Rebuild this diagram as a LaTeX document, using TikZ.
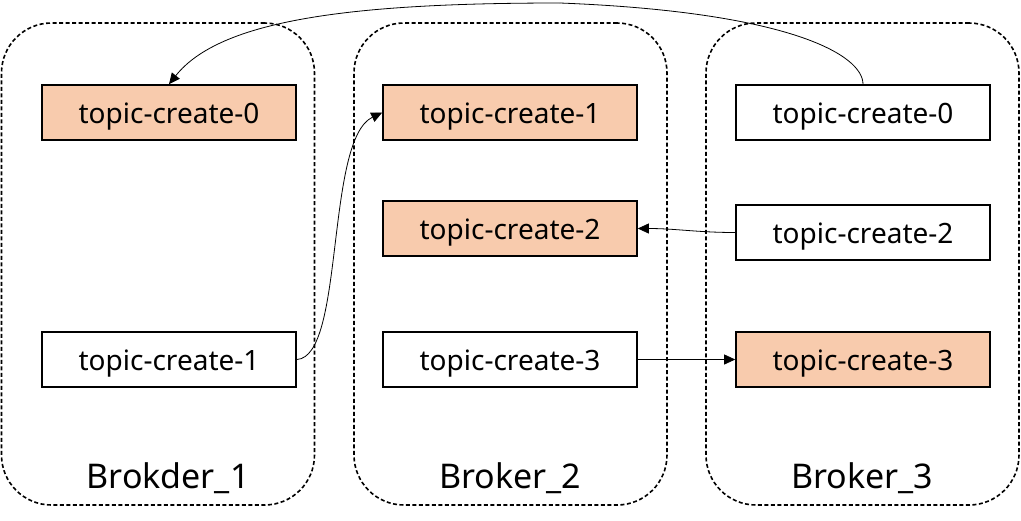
\documentclass[tikz,border=0pt]{standalone}
\usepackage{fontspec}
\setmainfont{Noto Sans}
\usetikzlibrary{arrows.meta}
\definecolor{peach}{HTML}{F8CBAD}
\begin{document}
\begin{tikzpicture}[x=1pt,y=-1pt,
  container/.style={draw=black,line width=1.6pt,dash pattern=on 4pt off 2.5pt,rounded corners=50pt,minimum width=313pt,minimum height=482pt,inner sep=0pt},
  part/.style={draw=black,line width=1.6pt,minimum width=254pt,minimum height=55pt,inner sep=0pt,text height=24pt,text depth=3pt,font=\fontsize{28}{32}\selectfont},
  hot/.style={part,fill=peach},
  cold/.style={part,fill=white},
  blabel/.style={font=\fontsize{34}{40}\selectfont,anchor=base},
  conn/.style={line width=0.8pt,-{Triangle[length=11pt,width=10pt]}}]
\useasboundingbox (0,0) rectangle (1021,520);
\node[container] (c1) at (158,264) {};
\node[container] (c2) at (510.5,264) {};
\node[container] (c3) at (862.5,264) {};
\node[blabel] (l1) at (168,488) {Brokder\_1};
\node[blabel] (l2) at (510,488) {Broker\_2};
\node[blabel] (l3) at (862,488) {Broker\_3};
\node[hot] (b10) at (169,112.5) {topic-create-0};
\node[cold] (b11) at (169,359.5) {topic-create-1};
\node[hot] (b21) at (510,112.5) {topic-create-1};
\node[hot] (b22) at (510,228.5) {topic-create-2};
\node[cold] (b23) at (510,359.5) {topic-create-3};
\node[cold] (b30) at (863,112.5) {topic-create-0};
\node[cold] (b32) at (863,232.5) {topic-create-2};
\node[hot] (b33) at (863,359.5) {topic-create-3};
\coordinate (top) at (560,3);
\draw[line width=0.8pt] (b30.north) .. controls (863,55) and (790,12) .. (top);
\draw[conn] (top) .. controls (350,3) and (220,20) .. (b10.north);
\draw[conn] (b11.east) .. controls (345,357) and (325,140) .. (b21.west);
\draw[conn] (b32.west) to[out=180,in=0] (b22.east);
\draw[conn] (b23.east) to[out=0,in=180] (b33.west);
\end{tikzpicture}
\end{document}
